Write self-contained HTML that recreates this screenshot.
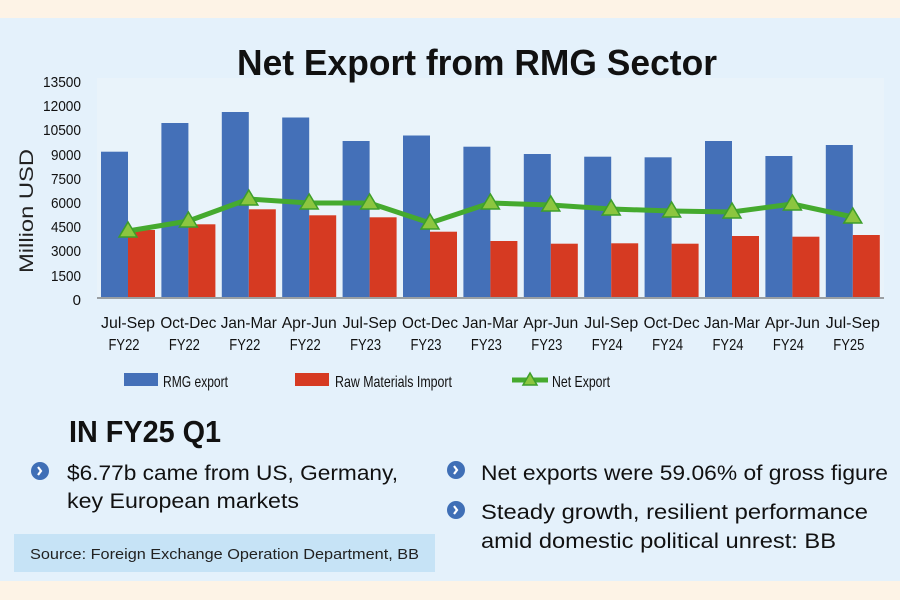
<!DOCTYPE html>
<html><head><meta charset="utf-8"><style>
html,body{margin:0;padding:0;background:#fdf3e6;}
svg{display:block;font-family:"Liberation Sans Narrow","Liberation Sans",sans-serif;}
</style></head><body>
<svg width="900" height="600" viewBox="0 0 900 600">
<rect x="0" y="0" width="900" height="600" fill="#fdf3e6"/>
<rect x="0" y="18" width="900" height="563" fill="#e4f1fb"/>
<rect x="97" y="78" width="787" height="220" fill="#e9f3fa"/>
<text x="477" y="75" text-anchor="middle" font-family="Liberation Sans" font-weight="bold" font-size="36" textLength="480" lengthAdjust="spacingAndGlyphs" fill="#111">Net Export from RMG Sector</text>
<g font-size="15" fill="#111" text-anchor="end">
<text x="81" y="87" textLength="38" lengthAdjust="spacingAndGlyphs">13500</text><text x="81" y="111" textLength="38" lengthAdjust="spacingAndGlyphs">12000</text><text x="81" y="135" textLength="38" lengthAdjust="spacingAndGlyphs">10500</text>
<text x="81" y="160" textLength="30" lengthAdjust="spacingAndGlyphs">9000</text><text x="81" y="184" textLength="30" lengthAdjust="spacingAndGlyphs">7500</text><text x="81" y="208" textLength="30" lengthAdjust="spacingAndGlyphs">6000</text>
<text x="81" y="232" textLength="30" lengthAdjust="spacingAndGlyphs">4500</text><text x="81" y="256" textLength="30" lengthAdjust="spacingAndGlyphs">3000</text><text x="81" y="281" textLength="30" lengthAdjust="spacingAndGlyphs">1500</text>
<text x="81" y="305">0</text>
</g>
<text transform="translate(33,211) rotate(-90)" text-anchor="middle" font-family="Liberation Sans" font-size="19" fill="#222" textLength="124" lengthAdjust="spacingAndGlyphs">Million USD</text>
<g fill="#4470b8">
<rect x="101" y="151.7" width="27" height="146.3"/>
<rect x="161.4" y="123" width="27" height="175"/>
<rect x="221.8" y="112" width="27" height="186"/>
<rect x="282.2" y="117.5" width="27" height="180.5"/>
<rect x="342.6" y="141" width="27" height="157"/>
<rect x="403" y="135.5" width="27" height="162.5"/>
<rect x="463.4" y="146.7" width="27" height="151.3"/>
<rect x="523.8" y="154" width="27" height="144"/>
<rect x="584.2" y="156.7" width="27" height="141.3"/>
<rect x="644.6" y="157.3" width="27" height="140.7"/>
<rect x="705" y="141" width="27" height="157"/>
<rect x="765.4" y="156" width="27" height="142"/>
<rect x="825.8" y="145" width="27" height="153"/>
</g>
<g fill="#d63a22">
<rect x="128" y="230" width="27" height="68"/>
<rect x="188.4" y="224.3" width="27" height="73.7"/>
<rect x="248.8" y="209.3" width="27" height="88.7"/>
<rect x="309.2" y="215.3" width="27" height="82.7"/>
<rect x="369.6" y="217.3" width="27" height="80.7"/>
<rect x="430" y="231.7" width="27" height="66.3"/>
<rect x="490.4" y="241" width="27" height="57"/>
<rect x="550.8" y="243.7" width="27" height="54.3"/>
<rect x="611.2" y="243.3" width="27" height="54.7"/>
<rect x="671.6" y="243.7" width="27" height="54.3"/>
<rect x="732" y="236" width="27" height="62"/>
<rect x="792.4" y="236.7" width="27" height="61.3"/>
<rect x="852.8" y="235" width="27" height="63"/>
</g>
<line x1="97" y1="298" x2="884" y2="298" stroke="#9a9fa3" stroke-width="2"/>
<polyline fill="none" stroke="#45aa2e" stroke-width="5" stroke-linejoin="round" points="128,231 188.4,221 248.8,199 309.2,203 369.6,203 430,223 490.4,203 550.8,205 611.2,209 671.6,211 732,212 792.4,204 852.8,217"/>
<g fill="#8cc63f" stroke="#3d9e2a" stroke-width="1.5">
<path d="M128,222 l-9,15 h18z"/><path d="M188.4,212 l-9,15 h18z"/><path d="M248.8,190 l-9,15 h18z"/>
<path d="M309.2,194 l-9,15 h18z"/><path d="M369.6,194 l-9,15 h18z"/><path d="M430,214 l-9,15 h18z"/>
<path d="M490.4,194 l-9,15 h18z"/><path d="M550.8,196 l-9,15 h18z"/><path d="M611.2,200 l-9,15 h18z"/>
<path d="M671.6,202 l-9,15 h18z"/><path d="M732,203 l-9,15 h18z"/><path d="M792.4,195 l-9,15 h18z"/>
<path d="M852.8,208 l-9,15 h18z"/>
</g>
<g font-size="16" fill="#111" text-anchor="middle">
<text x="128" y="328" textLength="54" lengthAdjust="spacingAndGlyphs">Jul-Sep</text><text x="124" y="350" textLength="31" lengthAdjust="spacingAndGlyphs">FY22</text>
<text x="188.4" y="328" textLength="56" lengthAdjust="spacingAndGlyphs">Oct-Dec</text><text x="184.4" y="350" textLength="31" lengthAdjust="spacingAndGlyphs">FY22</text>
<text x="248.8" y="328" textLength="56" lengthAdjust="spacingAndGlyphs">Jan-Mar</text><text x="244.8" y="350" textLength="31" lengthAdjust="spacingAndGlyphs">FY22</text>
<text x="309.2" y="328" textLength="55" lengthAdjust="spacingAndGlyphs">Apr-Jun</text><text x="305.2" y="350" textLength="31" lengthAdjust="spacingAndGlyphs">FY22</text>
<text x="369.6" y="328" textLength="54" lengthAdjust="spacingAndGlyphs">Jul-Sep</text><text x="365.6" y="350" textLength="31" lengthAdjust="spacingAndGlyphs">FY23</text>
<text x="430" y="328" textLength="56" lengthAdjust="spacingAndGlyphs">Oct-Dec</text><text x="426" y="350" textLength="31" lengthAdjust="spacingAndGlyphs">FY23</text>
<text x="490.4" y="328" textLength="56" lengthAdjust="spacingAndGlyphs">Jan-Mar</text><text x="486.4" y="350" textLength="31" lengthAdjust="spacingAndGlyphs">FY23</text>
<text x="550.8" y="328" textLength="55" lengthAdjust="spacingAndGlyphs">Apr-Jun</text><text x="546.8" y="350" textLength="31" lengthAdjust="spacingAndGlyphs">FY23</text>
<text x="611.2" y="328" textLength="54" lengthAdjust="spacingAndGlyphs">Jul-Sep</text><text x="607.2" y="350" textLength="31" lengthAdjust="spacingAndGlyphs">FY24</text>
<text x="671.6" y="328" textLength="56" lengthAdjust="spacingAndGlyphs">Oct-Dec</text><text x="667.6" y="350" textLength="31" lengthAdjust="spacingAndGlyphs">FY24</text>
<text x="732" y="328" textLength="56" lengthAdjust="spacingAndGlyphs">Jan-Mar</text><text x="728" y="350" textLength="31" lengthAdjust="spacingAndGlyphs">FY24</text>
<text x="792.4" y="328" textLength="55" lengthAdjust="spacingAndGlyphs">Apr-Jun</text><text x="788.4" y="350" textLength="31" lengthAdjust="spacingAndGlyphs">FY24</text>
<text x="852.8" y="328" textLength="54" lengthAdjust="spacingAndGlyphs">Jul-Sep</text><text x="848.8" y="350" textLength="31" lengthAdjust="spacingAndGlyphs">FY25</text>
</g>
<rect x="124" y="373" width="34" height="13" fill="#4470b8"/>
<text x="163" y="387" font-size="16" fill="#111" textLength="65" lengthAdjust="spacingAndGlyphs">RMG export</text>
<rect x="295" y="373" width="34" height="13" fill="#d63a22"/>
<text x="335" y="387" font-size="16" fill="#111" textLength="117" lengthAdjust="spacingAndGlyphs">Raw Materials Import</text>
<line x1="512" y1="380" x2="548" y2="380" stroke="#45aa2e" stroke-width="5"/>
<path d="M530,373 l-7,12 h14z" fill="#8cc63f" stroke="#3d9e2a" stroke-width="1.5"/>
<text x="552" y="387" font-size="16" fill="#111" textLength="58" lengthAdjust="spacingAndGlyphs">Net Export</text>
<text x="69" y="442" font-family="Liberation Sans" font-weight="bold" font-size="31" fill="#111" textLength="152" lengthAdjust="spacingAndGlyphs">IN FY25 Q1</text>
<g fill="#3f6fb6"><circle cx="40" cy="471" r="9"/><circle cx="456" cy="470" r="9"/><circle cx="456" cy="510" r="9"/></g>
<g fill="none" stroke="#fff" stroke-width="2.2"><path d="M38,467 l3,4 l-3,4"/><path d="M454,466 l3,4 l-3,4"/><path d="M454,506 l3,4 l-3,4"/></g>
<g font-size="21" fill="#111">
<text x="67" y="480" textLength="331" lengthAdjust="spacingAndGlyphs">$6.77b came from US, Germany,</text>
<text x="67" y="508" textLength="232" lengthAdjust="spacingAndGlyphs">key European markets</text>
<text x="481" y="480" textLength="407" lengthAdjust="spacingAndGlyphs">Net exports were 59.06% of gross figure</text>
<text x="481" y="519" textLength="387" lengthAdjust="spacingAndGlyphs">Steady growth, resilient performance</text>
<text x="481" y="548" textLength="355" lengthAdjust="spacingAndGlyphs">amid domestic political unrest: BB</text>
</g>
<rect x="14" y="534" width="421" height="38" fill="#c6e3f6"/>
<text x="30" y="559" font-size="15" fill="#222" textLength="389" lengthAdjust="spacingAndGlyphs">Source: Foreign Exchange Operation Department, BB</text>
</svg>
</body></html>
